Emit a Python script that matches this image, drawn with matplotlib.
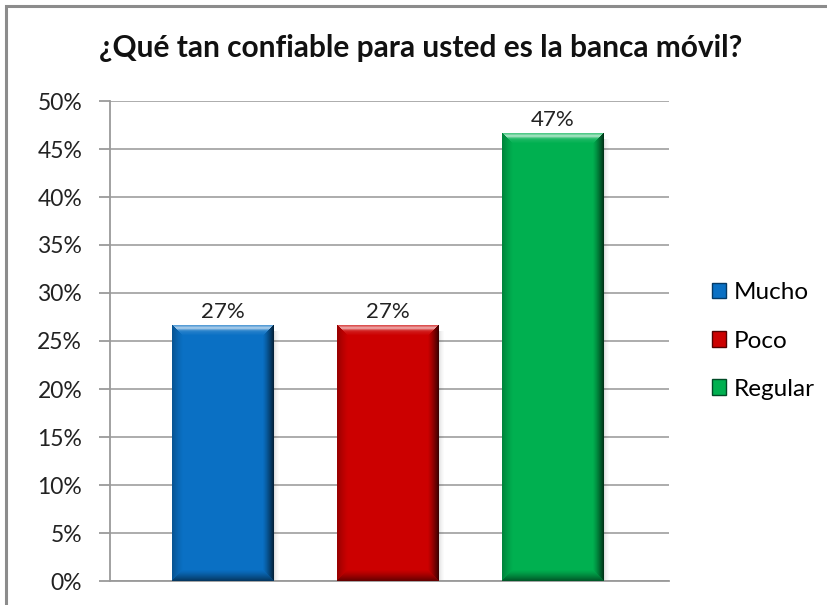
import numpy as np
import matplotlib.pyplot as plt
from matplotlib.patches import Patch, Rectangle
from matplotlib.ticker import FuncFormatter, MultipleLocator

categories = ["Mucho", "Poco", "Regular"]
shares = [0.2667, 0.2667, 0.4667]
title = "¿Qué tan confiable para usted es la banca móvil?"
colors = ["#0A70C4", "#CC0000", "#00B050"]
edge_colors = ["#043A66", "#520000", "#004A26"]

plt.rcParams['font.family'] = ['Lato', 'DejaVu Sans']

W, H = 828, 605
fig = plt.figure(figsize=(W / 100, H / 100), dpi=100)
ax = fig.add_axes([110 / W, 24 / H, 559 / W, 480 / H])

xmin, xmax = -0.685, 2.703
ymin, ymax = 0.0, 0.5
bar_w = 0.618
px_per_x = 559 / (xmax - xmin)
px_per_y = 480 / (ymax - ymin)


def bevel_overlay(wpx, hpx, band=11):
    """RGBA shading that gives a bar a raised, bevelled look."""
    i, j = np.mgrid[0:hpx, 0:wpx].astype(float)
    dist = np.stack([i, hpx - 1 - i, j, wpx - 1 - j])  # top, bottom, left, right
    side = dist.argmin(axis=0)
    d = dist.min(axis=0)
    t = np.clip(d / band, 0, 1)
    inside = d < band
    rgba = np.zeros((hpx, wpx, 4))
    # top: lighter with a bright streak just under the edge
    top = inside & (side == 0)
    rgba[top, :3] = 1.0
    rgba[top, 3] = 0.28 * (1 - t[top]) + 0.45 * np.exp(-((d[top] - 3.5) / 1.8) ** 2)
    # bottom, left and right: darker towards the edge
    strength = {1: 0.50, 2: 0.25, 3: 0.70}
    for s, k in strength.items():
        m = inside & (side == s)
        rgba[m, 3] = k * (1 - t[m]) ** 1.3
    return rgba


for i, (v, c) in enumerate(zip(shares, colors)):
    x0, x1 = i - bar_w / 2, i + bar_w / 2
    # soft shadow on the right side
    for k, a in enumerate([0.12, 0.08, 0.05, 0.03, 0.015]):
        ax.add_patch(Rectangle((x1 + k / px_per_x, 0), 1.2 / px_per_x,
                               v - 6 / px_per_y, color="black", alpha=a,
                               lw=0, zorder=2))
    ax.bar(i, v, width=bar_w, color=c, linewidth=0, zorder=3)
    wpx = int(round(bar_w * px_per_x))
    hpx = int(round(v * px_per_y))
    ax.imshow(bevel_overlay(wpx, hpx), extent=(x0, x1, 0, v), aspect="auto",
              interpolation="bilinear", zorder=4)
    ax.text(i, v + 3 / px_per_y, f"{v:.0%}", ha="center", va="bottom",
            fontsize=16, color="#222222", zorder=6)

ax.set_xlim(xmin, xmax)
ax.set_ylim(ymin, ymax)
ax.yaxis.set_major_locator(MultipleLocator(0.05))
ax.yaxis.set_major_formatter(FuncFormatter(lambda v, _: f"{v:.0%}"))
ax.set_xticks([])
ax.grid(axis="y", color="#A6A6A6", linewidth=1.3, zorder=0)
ax.set_axisbelow(True)
for s in ["top", "right"]:
    ax.spines[s].set_visible(False)
for s in ["left", "bottom"]:
    ax.spines[s].set_color("#9A9A9A")
    ax.spines[s].set_linewidth(1.3)
ax.tick_params(axis="y", length=8, width=1.3, color="#9A9A9A",
               labelsize=16.5, labelcolor="#222222", pad=12)

fig.text(0.5 + 7 / W, (H - 48) / H, title, ha="center", va="center",
         fontsize=21.5, fontweight="bold", color="#111111")

handles = [Patch(facecolor=c, edgecolor=e, linewidth=1.0)
           for c, e in zip(colors, edge_colors)]
fig.legend(handles, categories, loc="center left",
           bbox_to_anchor=(702 / W, (H - 341) / H), frameon=False,
           fontsize=17.5, handlelength=0.6, handleheight=0.6,
           handletextpad=0.3, labelspacing=1.12, borderaxespad=0)

# chart frame
fig.patches.append(Rectangle((6 / W, -0.05), 1.2, (H - 6) / H + 0.05,
                             transform=fig.transFigure, fill=False,
                             edgecolor="#8C8C8C", linewidth=2.2))

fig.savefig("out.png", dpi=100)
